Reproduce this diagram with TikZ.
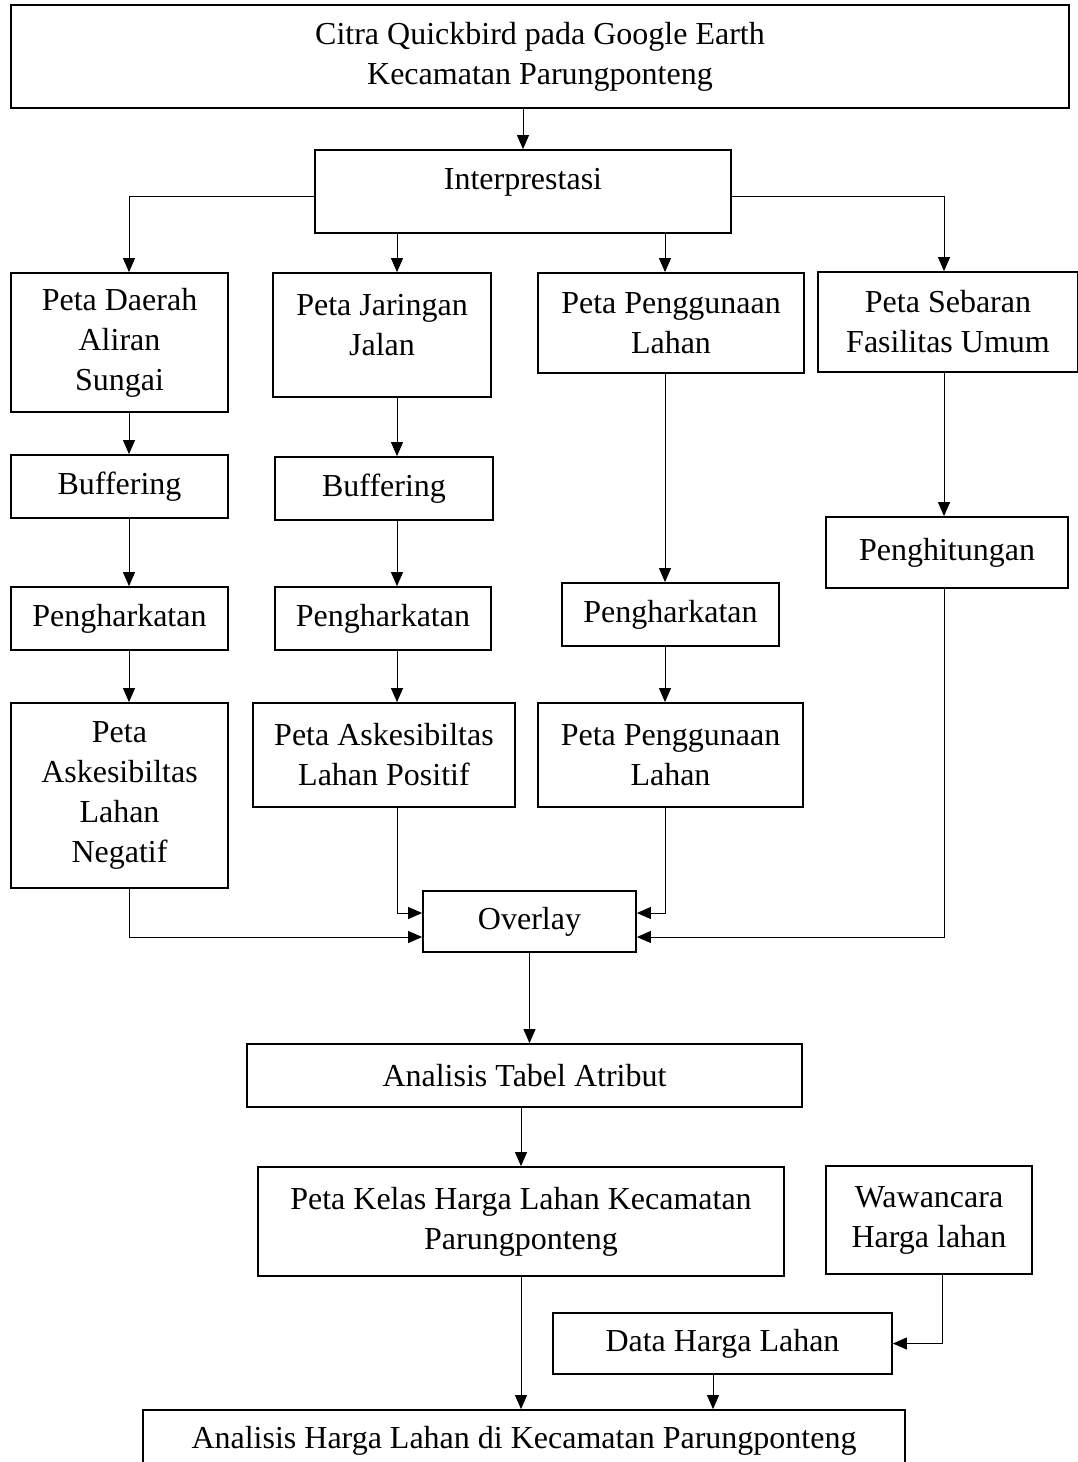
\documentclass[tikz,border=0pt]{standalone}
\usepackage{fontspec}
\setmainfont{Liberation Serif}
\usetikzlibrary{positioning,arrows.meta}

\begin{document}
\begin{tikzpicture}[x=1pt, y=-1pt,
                % Style kotak
                flowbox/.style={draw, line width=1.8pt, inner sep=2pt, align=center, font=\fontsize{32}{40}\selectfont},
                % Style panah
                arrowedge/.style={-{Triangle[length=14pt,width=12pt]}, line width=1pt}
            ]
                \useasboundingbox (0,0) rectangle (1078,1462);

                % --- KOLOM PANAH ---
                \coordinate (colA) at (129,0);
                \coordinate (colB) at (397,0);
                \coordinate (colC) at (665,0);
                \coordinate (colD) at (944,0);
                \coordinate (colW) at (942,0);
                \coordinate (colE) at (713,0);
                \coordinate (rowBr) at (0,196);
                \coordinate (rowHi) at (0,913);
                \coordinate (rowLo) at (0,937);

                % --- KOTAK ---
                % Atas
                \node[flowbox, minimum width=1058pt, minimum height=103pt] (citra) at (540,56.5) {Citra Quickbird pada Google Earth\\Kecamatan Parungponteng};
                \node[flowbox, minimum width=416pt, minimum height=83pt, text depth=26pt] (interp) at (523,191.5) {Interprestasi};

                % Baris 1
                \node[flowbox, minimum width=217pt, minimum height=139pt] (das) at (119.5,342.5) {Peta Daerah\\Aliran\\Sungai};
                \node[flowbox, minimum width=218pt, minimum height=124pt, text depth=20pt] (jalan) at (382,335) {Peta Jaringan\\Jalan};
                \node[flowbox, minimum width=266pt, minimum height=100pt] (guna) at (671,323) {Peta Penggunaan\\Lahan};
                \node[flowbox, minimum width=260pt, minimum height=100pt] (fasum) at (948,322) {Peta Sebaran\\Fasilitas Umum};

                % Buffering / Penghitungan
                \node[flowbox, minimum width=217pt, minimum height=63pt] (bufA) at (119.5,486.5) {Buffering};
                \node[flowbox, minimum width=218pt, minimum height=63pt] (bufB) at (384,488.5) {Buffering};
                \node[flowbox, minimum width=242pt, minimum height=71pt] (hitung) at (947,552.5) {Penghitungan};

                % Pengharkatan
                \node[flowbox, minimum width=217pt, minimum height=63pt] (harkA) at (119.5,618.5) {Pengharkatan};
                \node[flowbox, minimum width=216pt, minimum height=63pt] (harkB) at (383,618.5) {Pengharkatan};
                \node[flowbox, minimum width=217pt, minimum height=63pt] (harkC) at (670.5,614.5) {Pengharkatan};

                % Peta hasil
                \node[flowbox, minimum width=217pt, minimum height=185pt] (askNeg) at (119.5,795.5) {Peta\\Askesibiltas\\Lahan\\Negatif};
                \node[flowbox, minimum width=262pt, minimum height=104pt] (askPos) at (384,755) {Peta Askesibiltas\\Lahan Positif};
                \node[flowbox, minimum width=265pt, minimum height=104pt] (gunaB) at (670.5,755) {Peta Penggunaan\\Lahan};

                % Bawah
                \node[flowbox, minimum width=213pt, minimum height=61pt] (overlay) at (529.5,921.5) {Overlay};
                \node[flowbox, minimum width=555pt, minimum height=63pt] (atribut) at (524.5,1075.5) {Analisis Tabel Atribut};
                \node[flowbox, minimum width=526pt, minimum height=109pt] (kelas) at (521,1221.5) {Peta Kelas Harga Lahan Kecamatan\\Parungponteng};
                \node[flowbox, minimum width=206pt, minimum height=108pt] (wawan) at (929,1220) {Wawancara\\Harga lahan};
                \node[flowbox, minimum width=339pt, minimum height=61pt] (data) at (722.5,1343.5) {Data Harga Lahan};
                \node[flowbox, minimum width=762pt, minimum height=62pt] (analisis) at (524,1441) {Analisis Harga Lahan di Kecamatan Parungponteng};

                % --- PANAH ---
                \draw[arrowedge] (citra.south -| interp.north) -- (interp.north);
                \draw[arrowedge] (interp.west |- rowBr) -| (das.north -| colA);
                \draw[arrowedge] (interp.south -| colB) -- (jalan.north -| colB);
                \draw[arrowedge] (interp.south -| colC) -- (guna.north -| colC);
                \draw[arrowedge] (interp.east |- rowBr) -| (fasum.north -| colD);

                % Kolom A
                \draw[arrowedge] (das.south -| colA) -- (bufA.north -| colA);
                \draw[arrowedge] (bufA.south -| colA) -- (harkA.north -| colA);
                \draw[arrowedge] (harkA.south -| colA) -- (askNeg.north -| colA);
                % Kolom B
                \draw[arrowedge] (jalan.south -| colB) -- (bufB.north -| colB);
                \draw[arrowedge] (bufB.south -| colB) -- (harkB.north -| colB);
                \draw[arrowedge] (harkB.south -| colB) -- (askPos.north -| colB);
                % Kolom C
                \draw[arrowedge] (guna.south -| colC) -- (harkC.north -| colC);
                \draw[arrowedge] (harkC.south -| colC) -- (gunaB.north -| colC);
                % Kolom D
                \draw[arrowedge] (fasum.south -| colD) -- (hitung.north -| colD);

                % Ke overlay
                \draw[arrowedge] (askPos.south -| colB) |- (overlay.west |- rowHi);
                \draw[arrowedge] (gunaB.south -| colC) |- (overlay.east |- rowHi);
                \draw[arrowedge] (askNeg.south -| colA) |- (overlay.west |- rowLo);
                \draw[arrowedge] (hitung.south -| colD) |- (overlay.east |- rowLo);

                % Analisis
                \draw[arrowedge] (overlay.south) -- (overlay.south |- atribut.north);
                \draw[arrowedge] (atribut.south -| kelas.north) -- (kelas.north);
                \draw[arrowedge] (kelas.south) -- (kelas.south |- analisis.north);
                \draw[arrowedge] (wawan.south -| colW) |- (data.east);
                \draw[arrowedge] (data.south -| colE) -- (analisis.north -| colE);

            \end{tikzpicture}
\end{document}
